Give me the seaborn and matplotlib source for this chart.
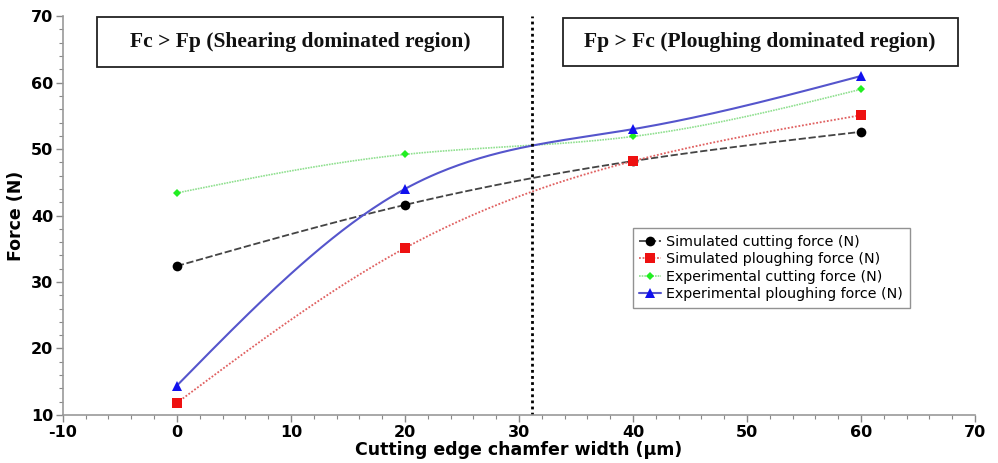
import numpy as np
import pandas as pd
import matplotlib
matplotlib.use('Agg')
import matplotlib.pyplot as plt
import seaborn as sns
from matplotlib.lines import Line2D
from matplotlib.patches import Rectangle
from matplotlib.ticker import MultipleLocator

# Dados
chamfer = [0, 20, 40, 60]
sim_cutting = [32.4, 41.6, 48.2, 52.6]
sim_ploughing = [11.8, 35.1, 48.2, 55.1]
exp_cutting = [43.4, 49.2, 51.9, 59.0]
exp_ploughing = [14.4, 44.0, 53.0, 61.0]

labels = ['Simulated cutting force (N)', 'Simulated ploughing force (N)',
          'Experimental cutting force (N)', 'Experimental ploughing force (N)']
region_texts = ['Fc > Fp (Shearing dominated region)', 'Fp > Fc (Ploughing dominated region)']
boundary = 31.1


def natural_spline(x, y, n=200):
    # spline cúbica natural só para suavizar o traçado entre os pontos
    x = np.asarray(x, float)
    y = np.asarray(y, float)
    k = len(x)
    h = np.diff(x)
    A = np.zeros((k, k))
    b = np.zeros(k)
    A[0, 0] = A[-1, -1] = 1
    for i in range(1, k - 1):
        A[i, i - 1] = h[i - 1]
        A[i, i] = 2 * (h[i - 1] + h[i])
        A[i, i + 1] = h[i]
        b[i] = 6 * ((y[i + 1] - y[i]) / h[i] - (y[i] - y[i - 1]) / h[i - 1])
    M = np.linalg.solve(A, b)
    xs = np.linspace(x[0], x[-1], n)
    j = np.clip(np.searchsorted(x, xs) - 1, 0, k - 2)
    hj = h[j]
    a = x[j + 1] - xs
    c = xs - x[j]
    ys = (M[j] * a**3 + M[j + 1] * c**3) / (6 * hj) \
        + (y[j] / hj - M[j] * hj / 6) * a + (y[j + 1] / hj - M[j + 1] * hj / 6) * c
    return xs, ys


sns.set_style('white')
plt.rcParams['font.family'] = ['DejaVu Sans']
plt.rcParams['axes.unicode_minus'] = False
plt.rcParams['text.color'] = 'black'
plt.rcParams['axes.labelcolor'] = 'black'
plt.rcParams['xtick.labelcolor'] = 'black'
plt.rcParams['ytick.labelcolor'] = 'black'

fig = plt.figure(figsize=(9.98, 4.63), dpi=100)
ax = fig.add_axes([0.063, 0.104, 0.914, 0.861])

series = [
    (sim_cutting, '#444444', (0, (4, 1.5)), 1.3, 'o', 'black', 7),
    (sim_ploughing, '#e06060', (0, (1, 1)), 1.3, 's', '#ee1111', 7),
    (exp_cutting, '#90e090', (0, (1, 0.6)), 1.2, 'D', '#22ee22', 4),
    (exp_ploughing, '#5555cc', '-', 1.5, '^', '#1111ee', 7),
]

handles = []
for vals, lc, ls, lw, mk, mc, ms in series:
    xs, ys = natural_spline(chamfer, vals)
    sns.lineplot(x=xs, y=ys, ax=ax, color=lc, linestyle=ls, linewidth=lw,
                 estimator=None, sort=False)
    ax.plot(chamfer, vals, linestyle='none', marker=mk, color=mc,
            markersize=ms, markeredgewidth=0, zorder=5)
    handles.append(Line2D([0], [0], color=lc, linestyle=ls, linewidth=lw,
                          marker=mk, markerfacecolor=mc, markeredgewidth=0,
                          markersize=ms))

ax.axvline(boundary, color='black', linestyle=(0, (1, 1.2)), linewidth=2)

ax.set_xlim(-10, 70)
ax.set_ylim(10, 70)
ax.xaxis.set_major_locator(MultipleLocator(10))
ax.xaxis.set_minor_locator(MultipleLocator(2))
ax.yaxis.set_major_locator(MultipleLocator(10))
ax.yaxis.set_minor_locator(MultipleLocator(2))
ax.tick_params(which='major', direction='out', length=5, width=1,
               color='#888888', labelsize=11.5, pad=2)
ax.tick_params(which='minor', direction='out', length=3, width=0.8,
               color='#888888')
ax.tick_params(axis='x', bottom=True, which='both')
ax.tick_params(axis='y', left=True, which='both')
for lab in ax.get_xticklabels() + ax.get_yticklabels():
    lab.set_fontweight('bold')

sns.despine(ax=ax)
for s in ['left', 'bottom']:
    ax.spines[s].set_color('#999999')
    ax.spines[s].set_linewidth(1.2)

ax.set_xlabel('Cutting edge chamfer width (µm)', fontsize=12.5, fontweight='bold', labelpad=1)
ax.set_ylabel('Force (N)', fontsize=12.5, fontweight='bold', labelpad=4)

# caixas das regiões (em coordenadas do eixo)
boxes = [(0.0373, 0.872, 0.445, 0.125), (0.548, 0.875, 0.433, 0.12)]
for (bx, by, bw, bh), txt in zip(boxes, region_texts):
    ax.add_patch(Rectangle((bx, by), bw, bh, transform=ax.transAxes, facecolor='white',
                           edgecolor='#222222', linewidth=1.3, zorder=6, clip_on=False))
    ax.text(bx + bw / 2, by + bh / 2, txt, transform=ax.transAxes, family='Liberation Serif',
            fontsize=15.5, fontweight='bold', va='center', ha='center', color='#111111', zorder=7)

leg = ax.legend(handles, labels, loc='upper left', bbox_to_anchor=(0.617, 0.486),
                fontsize=10.3, frameon=True, fancybox=False, handlelength=1.5,
                handletextpad=0.4, labelspacing=0.25, borderpad=0.45)
leg.get_frame().set_edgecolor('#777777')
leg.get_frame().set_linewidth(1.0)

fig.savefig('out.png', dpi=100)
